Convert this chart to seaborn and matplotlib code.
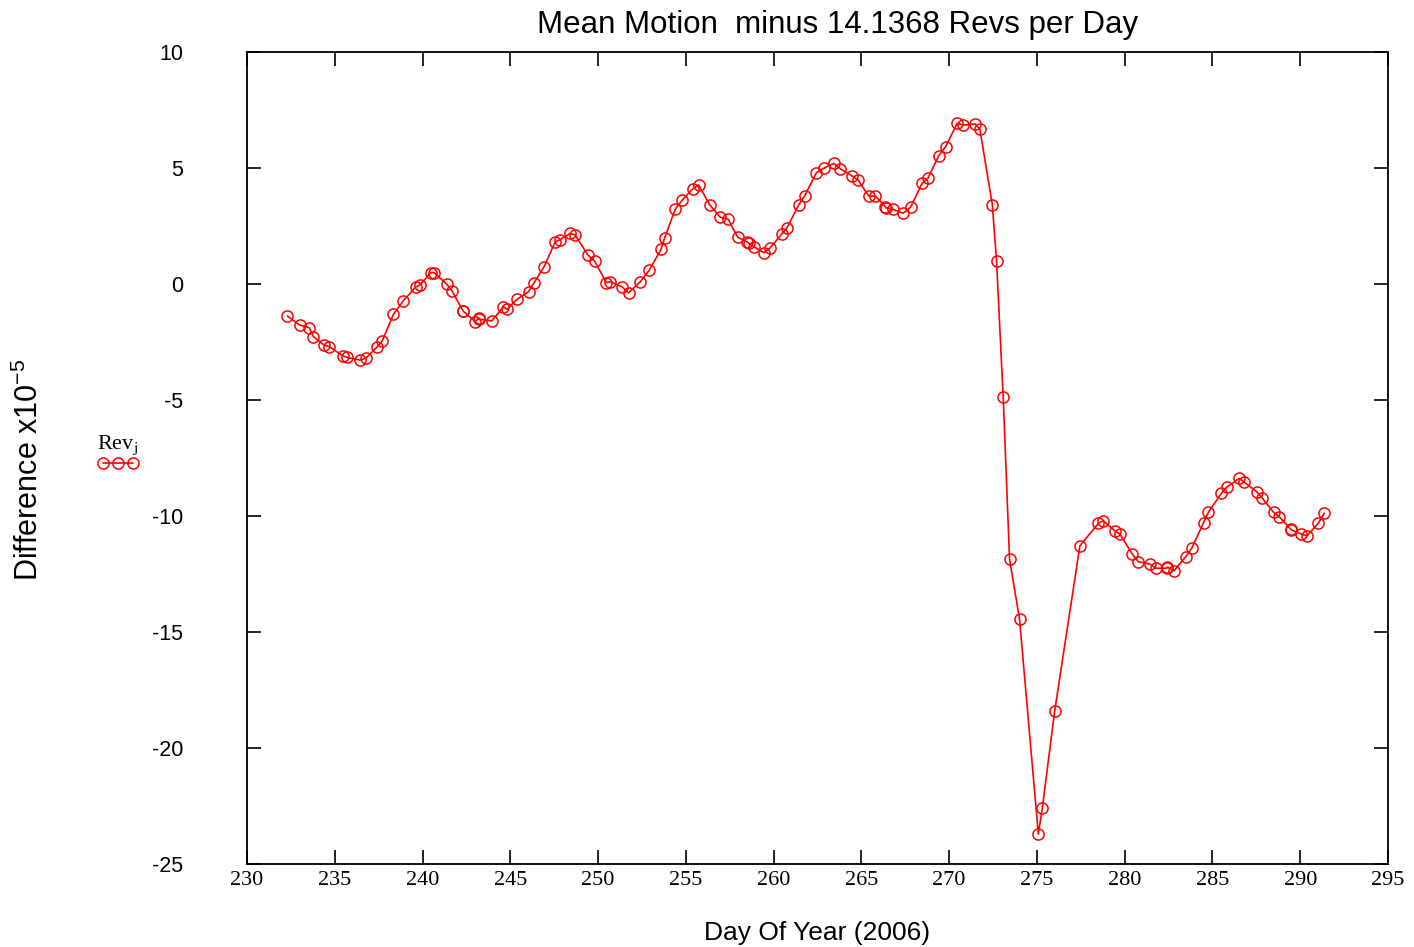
import matplotlib
matplotlib.use("Agg")
import matplotlib.pyplot as plt
import seaborn as sns
import pandas as pd

days = [232.3, 233.0, 233.55, 233.78, 234.39, 234.69, 235.45, 235.68, 236.44, 236.77,
        237.43, 237.70, 238.34, 238.91, 239.60, 239.86, 240.47, 240.66, 241.38, 241.67,
        242.30, 242.33, 243.0, 243.19, 243.22, 243.95, 244.61, 244.81, 245.38, 246.04,
        246.33, 246.93, 247.56, 247.81, 248.42, 248.70, 249.42, 249.80, 250.47, 250.70,
        251.36, 251.74, 252.41, 252.92, 253.59, 253.79, 254.40, 254.80, 255.41, 255.73,
        256.36, 256.97, 257.41, 257.96, 258.49, 258.58, 258.87, 259.44, 259.78, 260.45,
        260.77, 261.43, 261.76, 262.44, 262.86, 263.43, 263.81, 264.44, 264.82, 265.42,
        265.80, 266.37, 266.40, 266.81, 267.38, 267.80, 268.46, 268.79, 269.41, 269.80,
        270.46, 270.80, 271.47, 271.75, 272.46, 272.70, 273.08, 273.44, 274.01, 275.08,
        275.31, 276.01, 277.45, 278.50, 278.78, 279.45, 279.73, 280.44, 280.78, 281.44,
        281.77, 282.39, 282.42, 282.81, 283.48, 283.82, 284.49, 284.77, 285.51, 285.81,
        286.52, 286.77, 287.52, 287.81, 288.48, 288.80, 289.46, 289.49, 290.07, 290.38,
        291.02, 291.37]
diffs = [-1.38, -1.77, -1.88, -2.27, -2.63, -2.70, -3.09, -3.16, -3.28, -3.20,
         -2.70, -2.46, -1.31, -0.72, -0.14, -0.03, 0.49, 0.49, -0.01, -0.29,
         -1.15, -1.18, -1.62, -1.48, -1.52, -1.59, -0.98, -1.09, -0.66, -0.33,
         0.03, 0.75, 1.82, 1.90, 2.18, 2.11, 1.25, 0.99, 0.06, 0.10,
         -0.12, -0.38, 0.10, 0.60, 1.50, 1.98, 3.23, 3.62, 4.11, 4.27,
         3.41, 2.87, 2.79, 2.01, 1.82, 1.75, 1.61, 1.35, 1.54, 2.14,
         2.43, 3.41, 3.79, 4.80, 4.99, 5.20, 4.96, 4.67, 4.48, 3.79,
         3.79, 3.33, 3.28, 3.22, 3.05, 3.31, 4.34, 4.56, 5.53, 5.92,
         6.93, 6.85, 6.90, 6.67, 3.41, 0.99, -4.89, -11.85, -14.45, -23.71,
         -22.57, -18.41, -11.28, -10.32, -10.20, -10.65, -10.78, -11.65, -11.97, -12.07,
         -12.25, -12.25, -12.20, -12.36, -11.75, -11.39, -10.29, -9.84, -9.02, -8.76,
         -8.38, -8.52, -8.95, -9.21, -9.84, -10.03, -10.57, -10.60, -10.78, -10.86,
         -10.32, -9.88]

x_ticks = list(range(230, 296, 5))
y_ticks = list(range(-25, 11, 5))

df = pd.DataFrame({"Day": days, "Diff": diffs})

sns.set_style("ticks")
plt.rcParams["font.family"] = ["Liberation Sans", "DejaVu Sans"]
plt.rcParams["text.color"] = "black"
plt.rcParams["axes.labelcolor"] = "black"
plt.rcParams["xtick.color"] = "black"
plt.rcParams["ytick.color"] = "black"
plt.rcParams["mathtext.fontset"] = "custom"
plt.rcParams["mathtext.rm"] = "Liberation Sans"
plt.rcParams["mathtext.it"] = "Liberation Sans:italic"

fig = plt.figure(figsize=(14.14, 9.47), dpi=100)
ax = fig.add_axes([247/1414, 1-864/947, (1388-247)/1414, (864-52)/947])

sns.lineplot(data=df, x="Day", y="Diff", ax=ax, estimator=None, sort=False,
             color="red", linewidth=1.2, marker="o", markersize=8,
             markerfacecolor="none", markeredgecolor="red", markeredgewidth=1.1)

ax.set_xlim(230, 295)
ax.set_ylim(-25, 10)
ax.set_xticks(x_ticks)
ax.set_yticks(y_ticks)
ax.set_xticklabels([str(t) for t in x_ticks], family=["Liberation Serif", "DejaVu Serif"], fontsize=16)
ax.set_yticklabels([str(t) for t in y_ticks], fontsize=15.5)
ax.tick_params(axis="both", direction="in", length=10, width=1.2, top=True, right=True)
ax.tick_params(axis="y", pad=46)
ax.tick_params(axis="x", pad=5)
for s in ax.spines.values():
    s.set_visible(True)
    s.set_linewidth(1.3)
    s.set_color("black")

ax.set_title("Mean Motion  minus 14.1368 Revs per Day", fontsize=22.5, pad=14, x=0.518)
ax.set_xlabel("Day Of Year (2006)", fontsize=19, labelpad=22)
ax.set_ylabel("Difference x10$^{-5}$", fontsize=22, labelpad=6)
ax.yaxis.set_label_coords(-0.177, 0.485)

line = ax.get_lines()[0]
leg = ax.legend(handles=[line], labels=[""], loc="center",
                bbox_to_anchor=(-0.113, 0.507), frameon=False,
                title="Rev$_\\mathrm{j}$", numpoints=3, handlelength=2.8,
                markerscale=1.0, borderpad=0, handletextpad=0, labelspacing=0)
leg.get_title().set_family(["Liberation Serif", "DejaVu Serif"])
leg.get_title().set_fontsize(16)
leg.get_title().set_math_fontfamily("stix")

fig.savefig("out.png", dpi=100)
